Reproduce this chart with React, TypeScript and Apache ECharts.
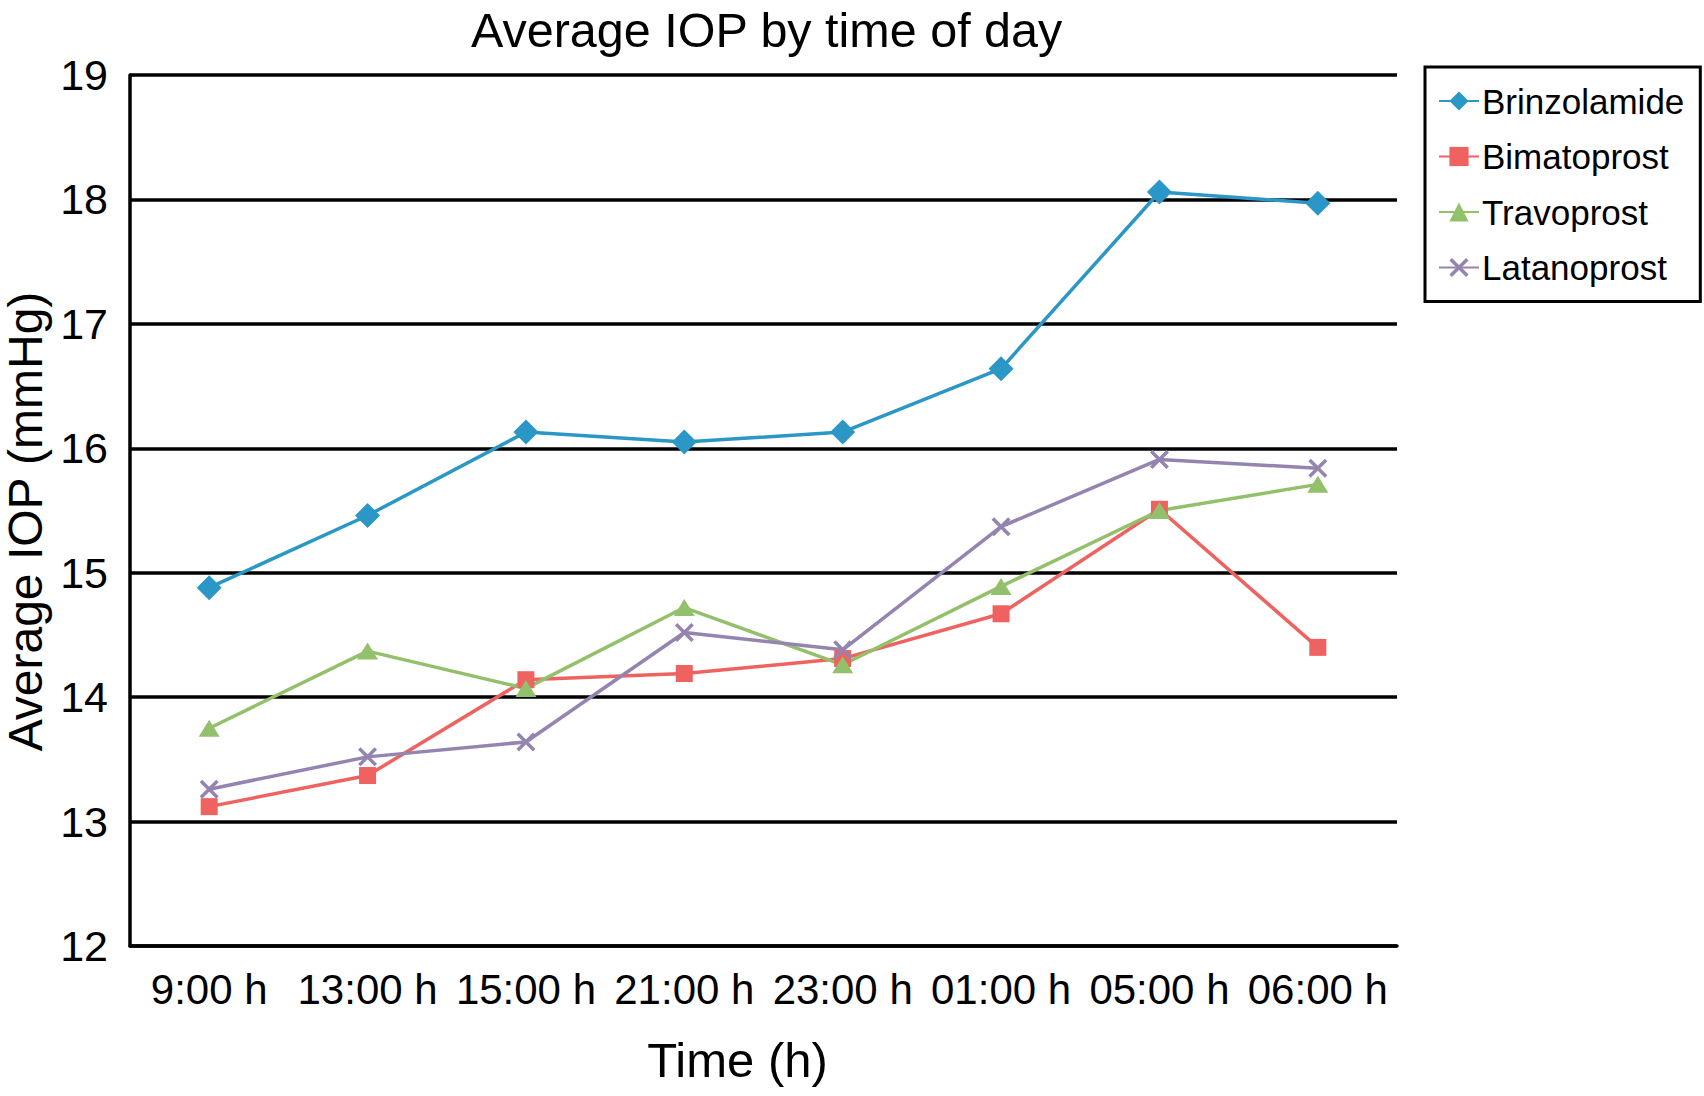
import React, { useEffect, useRef } from "react";
import * as echarts from "echarts";

const categories = ["9:00 h", "13:00 h", "15:00 h", "21:00 h", "23:00 h", "01:00 h", "05:00 h", "06:00 h"];
const brinzolamide = [14.88, 15.46, 16.13, 16.05, 16.13, 16.64, 18.06, 17.97];
const bimatoprost = [13.12, 13.37, 14.14, 14.19, 14.31, 14.67, 15.51, 14.4];
const travoprost = [13.75, 14.37, 14.07, 14.72, 14.26, 14.89, 15.5, 15.71];
const latanoprost = [13.26, 13.52, 13.64, 14.52, 14.38, 15.37, 15.91, 15.84];
const seriesNames = ["Brinzolamide", "Bimatoprost", "Travoprost", "Latanoprost"];
const yMin = 12;
const yMax = 19;

const FONT = "'Liberation Sans', Arial, Helvetica, sans-serif";
const CROSS = "path://M0,1.3 L1.3,0 L10,8.7 L8.7,10 Z M8.7,0 L10,1.3 L1.3,10 L0,8.7 Z";

export default function App() {
  const ref = useRef<HTMLDivElement>(null);
  useEffect(() => {
    if (!ref.current) return;
    const chart = echarts.init(ref.current, null, { renderer: "svg" });
    const mk = (name: string, data: number[], color: string, symbol: string, size: any) => ({
      name,
      type: "line",
      data,
      symbol,
      symbolSize: size,
      showSymbol: true,
      lineStyle: { color, width: 3.5 },
      itemStyle: { color, borderWidth: 0 },
      emphasis: { disabled: true },
    });
    chart.setOption({
      animation: false,
      backgroundColor: "#ffffff",
      textStyle: { fontFamily: FONT, color: "#000" },
      title: {
        text: "Average IOP by time of day",
        left: 466,
        top: 0,
        textStyle: { fontFamily: FONT, fontSize: 48.5, fontWeight: "normal", color: "#000" },
      },
      legend: {
        orient: "vertical",
        left: 1425,
        top: 67,
        data: seriesNames,
        borderColor: "#000",
        borderWidth: 3,
        padding: [16, 16, 16, 13],
        itemWidth: 40,
        itemHeight: 24,
        itemGap: 19.5,
        textStyle: { fontFamily: FONT, fontSize: 35, color: "#000", lineHeight: 36, padding: [0, 0, 0, -2] },
      },
      grid: { left: 130, right: 307, top: 75, bottom: 150, containLabel: false, outerBoundsMode: "none" },
      xAxis: {
        type: "category",
        data: categories,
        boundaryGap: true,
        name: "Time (h)",
        nameLocation: "middle",
        nameGap: 89,
        nameTextStyle: { fontFamily: FONT, fontSize: 49, color: "#000", padding: [0, 52, 0, 0] },
        axisLine: { show: true, lineStyle: { color: "#000", width: 3.5 } },
        axisTick: { show: false },
        axisLabel: { fontFamily: FONT, fontSize: 42, color: "#000", margin: 22, interval: 0 },
        splitLine: { show: false },
      },
      yAxis: {
        type: "value",
        min: yMin,
        max: yMax,
        interval: 1,
        name: "Average IOP (mmHg)",
        nameLocation: "middle",
        nameGap: 74,
        nameTextStyle: { fontFamily: FONT, fontSize: 48, lineHeight: 48, color: "#000", padding: [0, 22, 0, 0] },
        axisLine: { show: true, lineStyle: { color: "#000", width: 3.5 } },
        axisTick: { show: false },
        axisLabel: { fontFamily: FONT, fontSize: 43, color: "#000", margin: 22 },
        splitLine: { show: true, lineStyle: { color: "#000", width: 3.5 } },
      },
      series: [
        mk(seriesNames[0], brinzolamide, "#2a97c6", "diamond", [25, 25]),
        mk(seriesNames[1], bimatoprost, "#ee6360", "rect", 17),
        mk(seriesNames[2], travoprost, "#93c06b", "triangle", [21, 17]),
        mk(seriesNames[3], latanoprost, "#9584b0", CROSS, 19),
      ],
    });
    return () => chart.dispose();
  }, []);
  return (
    <div
      ref={ref}
      style={{ position: "fixed", left: 0, top: 0, width: 1704, height: 1096, background: "#fff" }}
    />
  );
}
